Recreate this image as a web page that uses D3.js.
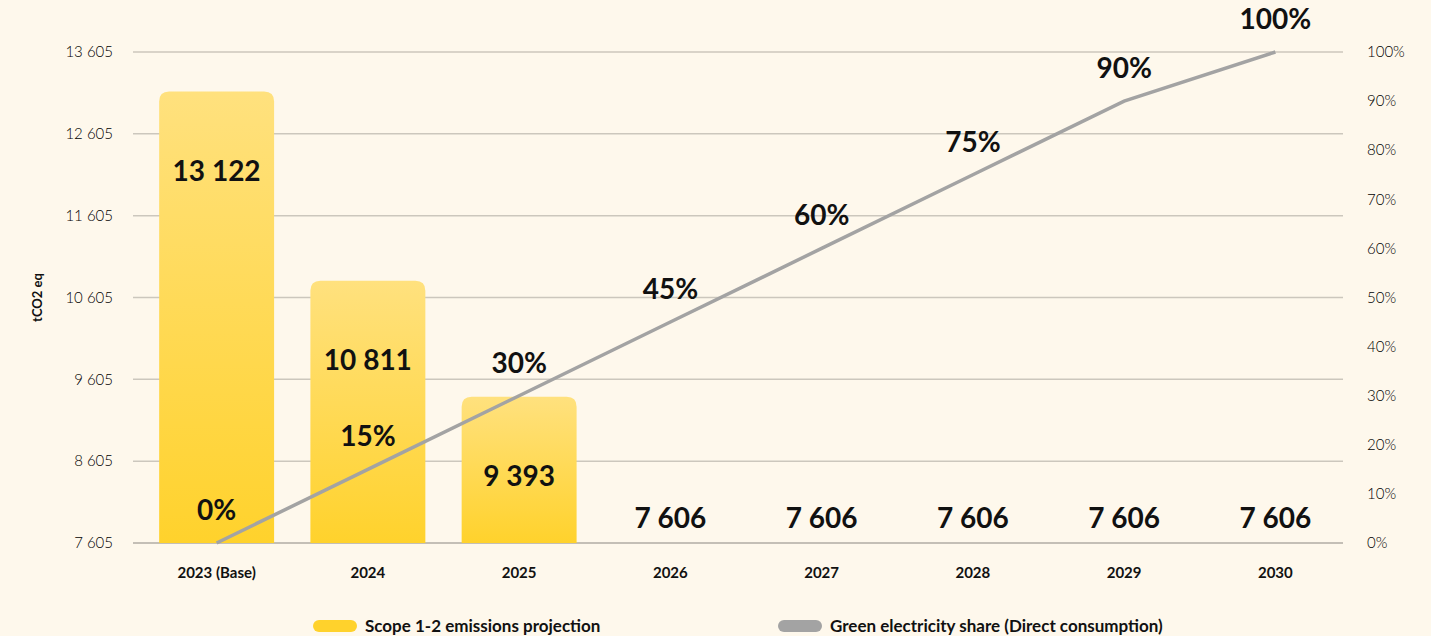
<!DOCTYPE html>
<html lang="en">
<head>
<meta charset="UTF-8">
<title>Scope 1-2 emissions projection</title>
<script src="https://cdn.jsdelivr.net/npm/d3@7"></script>
<style>
  html, body { margin: 0; padding: 0; background: #fef8ec; }
  svg { display: block; font-family: Lato, "Open Sans", sans-serif; }
</style>
</head>
<body>
<svg width="1431" height="636"></svg>
<script>
// data
var years = ["2023 (Base)", "2024", "2025", "2026", "2027", "2028", "2029", "2030"];
var emissions = [13122, 10811, 9393, 7606, 7606, 7606, 7606, 7606];
var greenShare = [0, 15, 30, 45, 60, 75, 90, 100];
var leftTicks = [7605, 8605, 9605, 10605, 11605, 12605, 13605];
var rightTicks = [0, 10, 20, 30, 40, 50, 60, 70, 80, 90, 100];
var seriesNames = ["Scope 1-2 emissions projection", "Green electricity share (Direct consumption)"];

var width = 1431, height = 636;
var svg = d3.select("svg");

var plotLeft = 133, plotRight = 1343, plotTop = 52, plotBottom = 543;

var x = d3.scaleBand().domain(years).range([plotLeft + 8, plotRight + 8])
    .paddingInner(0.24).paddingOuter(0.12);
var y = d3.scaleLinear().domain([7605, 13605]).range([plotBottom, plotTop]);
var yR = d3.scaleLinear().domain([0, 100]).range([plotBottom, plotTop]);

var fmt = function (v) { return d3.format(",")(v).replace(/,/g, " "); };

// gradient for the bars
var defs = svg.append("defs");
var grad = defs.append("linearGradient").attr("id", "barGrad")
    .attr("x1", 0).attr("y1", 0).attr("x2", 0).attr("y2", 1);
grad.append("stop").attr("offset", "0%").attr("stop-color", "#ffe17e");
grad.append("stop").attr("offset", "100%").attr("stop-color", "#ffd22c");

// grid lines
svg.append("g").selectAll("line")
    .data(leftTicks)
    .enter().append("line")
    .attr("x1", plotLeft).attr("x2", plotRight)
    .attr("y1", function (d) { return y(d); })
    .attr("y2", function (d) { return y(d); })
    .attr("stroke", function (d) { return d === 7605 ? "#b0aca4" : "#ccc7bd"; })
    .attr("stroke-width", 1.5);

// left axis labels
svg.append("g").selectAll("text")
    .data(leftTicks)
    .enter().append("text")
    .attr("x", 113)
    .attr("y", function (d) { return y(d); })
    .attr("dy", "0.35em")
    .attr("text-anchor", "end")
    .attr("font-size", 15)
    .attr("font-weight", 300)
    .attr("fill", "#000")
    .text(fmt);

// right axis labels
svg.append("g").selectAll("text")
    .data(rightTicks)
    .enter().append("text")
    .attr("x", 1367)
    .attr("y", function (d) { return yR(d); })
    .attr("dy", "0.35em")
    .attr("font-size", 15)
    .attr("font-weight", 300)
    .attr("fill", "#000")
    .text(function (d) { return d + "%"; });

// y axis title
svg.append("text")
    .attr("transform", "translate(42," + (plotTop + plotBottom) / 2 + ") rotate(-90)")
    .attr("text-anchor", "middle")
    .attr("font-size", 13)
    .attr("font-weight", 700)
    .attr("fill", "#111")
    .text("tCO2 eq");

// bars with rounded top corners
function barPath(x0, w, top, bottom) {
    var h = bottom - top;
    var r = Math.min(10, h, w / 2);
    return "M" + x0 + "," + bottom +
        "L" + x0 + "," + (top + r) +
        "Q" + x0 + "," + top + " " + (x0 + r) + "," + top +
        "L" + (x0 + w - r) + "," + top +
        "Q" + (x0 + w) + "," + top + " " + (x0 + w) + "," + (top + r) +
        "L" + (x0 + w) + "," + bottom + "Z";
}
svg.append("g").selectAll("path")
    .data(years)
    .enter().append("path")
    .attr("d", function (d, i) {
        return barPath(x(d), x.bandwidth(), y(emissions[i]), y(7605));
    })
    .attr("fill", "url(#barGrad)");

// bar value labels
svg.append("g").selectAll("text")
    .data(years)
    .enter().append("text")
    .attr("x", function (d) { return x(d) + x.bandwidth() / 2; })
    .attr("y", function (d, i) {
        var top = y(emissions[i]);
        return (plotBottom - top) > 100 ? top + 80 : top - 25;
    })
    .attr("dy", "0.35em")
    .attr("text-anchor", "middle")
    .attr("font-size", 28)
    .attr("font-weight", 700)
    .attr("fill", "#111")
    .text(function (d, i) { return fmt(emissions[i]); });

// green electricity line
var line = d3.line()
    .x(function (d, i) { return x(years[i]) + x.bandwidth() / 2; })
    .y(function (d) { return yR(d); });
svg.append("path")
    .datum(greenShare)
    .attr("d", line)
    .attr("fill", "none")
    .attr("stroke", "#a3a3a3")
    .attr("stroke-width", 3.5);

// line labels
svg.append("g").selectAll("text")
    .data(greenShare)
    .enter().append("text")
    .attr("x", function (d, i) { return x(years[i]) + x.bandwidth() / 2; })
    .attr("y", function (d) { return yR(d) - 33; })
    .attr("dy", "0.35em")
    .attr("text-anchor", "middle")
    .attr("font-size", 28)
    .attr("font-weight", 700)
    .attr("fill", "#111")
    .text(function (d) { return d + "%"; });

// category labels
svg.append("g").selectAll("text")
    .data(years)
    .enter().append("text")
    .attr("x", function (d) { return x(d) + x.bandwidth() / 2; })
    .attr("y", 573)
    .attr("dy", "0.35em")
    .attr("text-anchor", "middle")
    .attr("font-size", 15)
    .attr("font-weight", 700)
    .attr("fill", "#111")
    .text(function (d) { return d; });

// legend
var legendX = [313, 778];
var legendCol = ["#ffd22c", "#a3a3a3"];
var legend = svg.append("g").selectAll("g")
    .data(seriesNames)
    .enter().append("g")
    .attr("transform", function (d, i) { return "translate(" + legendX[i] + ",626)"; });
legend.append("rect")
    .attr("x", 0).attr("y", -6)
    .attr("width", 44).attr("height", 12)
    .attr("rx", 6)
    .attr("fill", function (d, i) { return legendCol[i]; });
legend.append("text")
    .attr("x", 52).attr("dy", "0.35em")
    .attr("font-size", 17)
    .attr("font-weight", 700)
    .attr("fill", "#111")
    .text(function (d) { return d; });
</script>
</body>
</html>
